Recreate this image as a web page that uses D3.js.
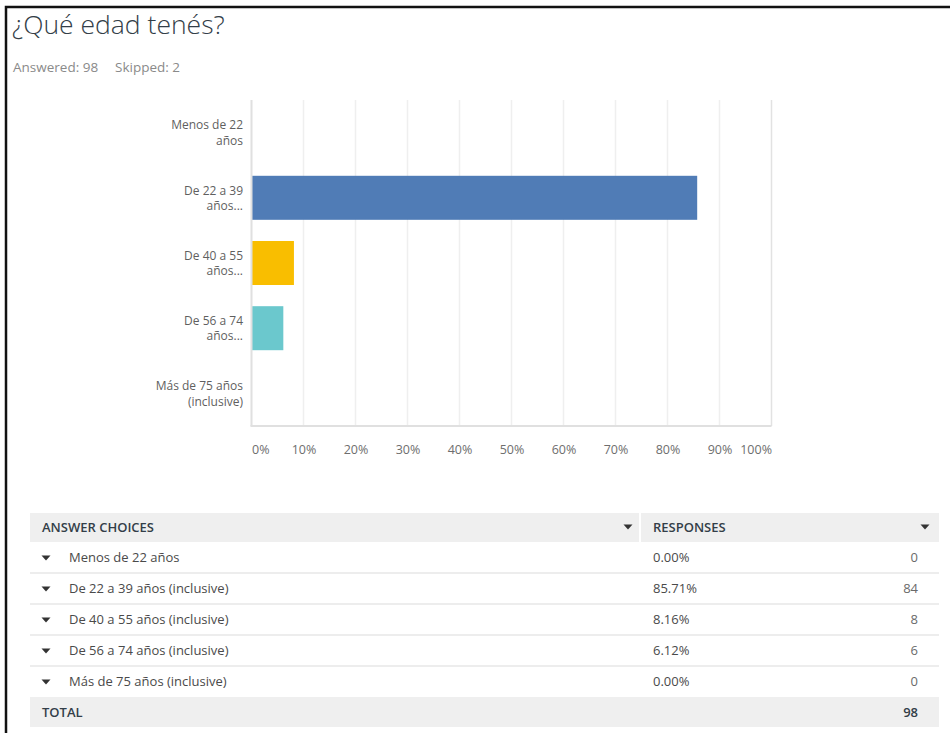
<!DOCTYPE html>
<html>
<head>
<meta charset="utf-8">
<script src="https://cdn.jsdelivr.net/npm/d3@7"></script>
<style>
  html, body { margin: 0; padding: 0; background: #fff; }
  svg { display: block; }
  text { font-family: "Open Sans", "Noto Sans", sans-serif; }
</style>
</head>
<body>
<svg id="chart" width="950" height="733"></svg>
<script>
// Survey question and summary
const questionTitle = "¿Qué edad tenés?";
const answeredCount = 98;
const skippedCount = 2;

// Answer choices (short labels for the chart, full labels for the table)
const chartLabels = [
  ["Menos de 22", "años"],
  ["De 22 a 39", "años..."],
  ["De 40 a 55", "años..."],
  ["De 56 a 74", "años..."],
  ["Más de 75 años", "(inclusive)"]
];
const choiceLabels = [
  "Menos de 22 años",
  "De 22 a 39 años (inclusive)",
  "De 40 a 55 años (inclusive)",
  "De 56 a 74 años (inclusive)",
  "Más de 75 años (inclusive)"
];
const responseCounts = [0, 84, 8, 6, 0];
const responsePercents = [0.00, 85.71, 8.16, 6.12, 0.00];
const barColors = ["#507cb6", "#507cb6", "#f9be00", "#6bc8cd", "#b7b7b7"];
const tickValues = [0, 10, 20, 30, 40, 50, 60, 70, 80, 90, 100];

const svg = d3.select("#chart");

// Outer frame
svg.append("path")
  .attr("d", "M6,733 V7 H950")
  .attr("fill", "none")
  .attr("stroke", "#111")
  .attr("stroke-width", 2.5);

// Heading
svg.append("text")
  .attr("x", 12).attr("y", 34)
  .attr("font-size", 26.5).attr("font-weight", 300)
  .attr("fill", "#333e48")
  .text(questionTitle);

svg.append("text")
  .attr("x", 13).attr("y", 72)
  .attr("font-size", 13.5).attr("fill", "#8a8a8a")
  .text(`Answered: ${answeredCount}`);
svg.append("text")
  .attr("x", 115).attr("y", 72)
  .attr("font-size", 13.5).attr("fill", "#8a8a8a")
  .text(`Skipped: ${skippedCount}`);

// ---- Bar chart ----
const plot = { left: 251.5, right: 771.5, top: 100, bottom: 426 };

const x = d3.scaleLinear().domain([0, 100]).range([plot.left, plot.right]);
const y = d3.scaleBand()
  .domain(d3.range(choiceLabels.length))
  .range([plot.top, plot.bottom])
  .paddingInner(0.325).paddingOuter(0.1625);

const g = svg.append("g");

// Vertical gridlines
g.selectAll("line.grid")
  .data(tickValues.slice(1))
  .join("line")
  .attr("class", "grid")
  .attr("x1", d => x(d)).attr("x2", d => x(d))
  .attr("y1", plot.top).attr("y2", plot.bottom)
  .attr("stroke", d => d === 100 ? "#e2e2e2" : "#efefef")
  .attr("stroke-width", 1.5);

// Bars
g.selectAll("rect.bar")
  .data(responsePercents)
  .join("rect")
  .attr("class", "bar")
  .attr("x", x(0))
  .attr("y", (d, i) => y(i))
  .attr("width", d => x(d) - x(0))
  .attr("height", y.bandwidth())
  .attr("fill", (d, i) => barColors[i]);

// Axis lines (left and bottom)
g.append("line")
  .attr("x1", plot.left).attr("x2", plot.left)
  .attr("y1", plot.top).attr("y2", plot.bottom)
  .attr("stroke", "#e0e0e0").attr("stroke-width", 2);
g.append("line")
  .attr("x1", plot.left - 1).attr("x2", plot.right)
  .attr("y1", plot.bottom).attr("y2", plot.bottom)
  .attr("stroke", "#e0e0e0").attr("stroke-width", 2);

// Tick labels via a D3 axis
const xAxis = d3.axisBottom(x)
  .tickValues(tickValues)
  .tickFormat(d => d + "%")
  .tickSize(0).tickPadding(0);

const axisG = svg.append("g")
  .attr("transform", `translate(0,${plot.bottom + 24})`)
  .call(xAxis);
axisG.select(".domain").remove();
axisG.selectAll("text")
  .attr("font-family", "\"Open Sans\", \"Noto Sans\", sans-serif")
  .attr("font-size", 12.5)
  .attr("fill", "#6e6e6e")
  .attr("dy", "0.32em")
  .attr("text-anchor", d => d === 0 ? "start" : (d === 100 ? "end" : "middle"));

// Category labels
const catG = svg.append("g");
chartLabels.forEach((lines, i) => {
  const cy = y(i) + y.bandwidth() / 2;
  const t = catG.append("text")
    .attr("text-anchor", "end")
    .attr("font-size", 12)
    .attr("fill", "#5f5f5f");
  lines.forEach((ln, k) => {
    t.append("tspan")
      .attr("x", 243)
      .attr("y", cy - 7.5 + k * 15.5)
      .attr("dy", "0.35em")
      .text(ln);
  });
});

// ---- Summary table ----
const table = { left: 30, right: 939, split: 640, headTop: 513, headH: 29, rowH: 31 };
const tg = svg.append("g");

// Header band (two cells with a white gap)
tg.append("rect")
  .attr("x", table.left).attr("y", table.headTop)
  .attr("width", table.split - table.left - 1).attr("height", table.headH)
  .attr("fill", "#efefef");
tg.append("rect")
  .attr("x", table.split + 1).attr("y", table.headTop)
  .attr("width", table.right - table.split - 1).attr("height", table.headH)
  .attr("fill", "#efefef");

const headY = table.headTop + table.headH / 2;
tg.append("text")
  .attr("x", 42).attr("y", headY).attr("dy", "0.35em")
  .attr("font-size", 13).attr("font-weight", 600).attr("fill", "#333e48")
  .text("ANSWER CHOICES");
tg.append("text")
  .attr("x", 653).attr("y", headY).attr("dy", "0.35em")
  .attr("font-size", 13).attr("font-weight", 600).attr("fill", "#333e48")
  .text("RESPONSES");

const caret = (cx, cy) => `M${cx - 4.5},${cy - 2} L${cx + 4.5},${cy - 2} L${cx},${cy + 3} Z`;
[628, 925].forEach(cx => {
  tg.append("path").attr("d", caret(cx, headY - 1)).attr("fill", "#333");
});

const rowTop = i => table.headTop + table.headH + i * table.rowH;

choiceLabels.forEach((label, i) => {
  const cy = rowTop(i) + table.rowH / 2;
  if (i > 0) {
    tg.append("line")
      .attr("x1", table.left).attr("x2", table.right)
      .attr("y1", rowTop(i)).attr("y2", rowTop(i))
      .attr("stroke", "#dcdcdc").attr("stroke-width", 1.2);
  }
  tg.append("path").attr("d", caret(46, cy)).attr("fill", "#333");
  tg.append("text")
    .attr("x", 69).attr("y", cy).attr("dy", "0.35em")
    .attr("font-size", 13).attr("fill", "#4a4a4a")
    .text(label);
  tg.append("text")
    .attr("x", 653).attr("y", cy).attr("dy", "0.35em")
    .attr("font-size", 13).attr("fill", "#4a4a4a")
    .text(responsePercents[i].toFixed(2) + "%");
  tg.append("text")
    .attr("x", 918).attr("y", cy).attr("dy", "0.35em")
    .attr("text-anchor", "end")
    .attr("font-size", 13).attr("fill", "#6a6a6a")
    .text(responseCounts[i]);
});

// Total row
const totalTop = rowTop(choiceLabels.length);
tg.append("rect")
  .attr("x", table.left).attr("y", totalTop)
  .attr("width", table.right - table.left).attr("height", 30)
  .attr("fill", "#efefef");
tg.append("text")
  .attr("x", 42).attr("y", totalTop + 15).attr("dy", "0.35em")
  .attr("font-size", 13).attr("font-weight", 600).attr("fill", "#333e48")
  .text("TOTAL");
tg.append("text")
  .attr("x", 918).attr("y", totalTop + 15).attr("dy", "0.35em")
  .attr("text-anchor", "end")
  .attr("font-size", 13).attr("font-weight", 600).attr("fill", "#333e48")
  .text(d3.sum(responseCounts));
</script>
</body>
</html>
